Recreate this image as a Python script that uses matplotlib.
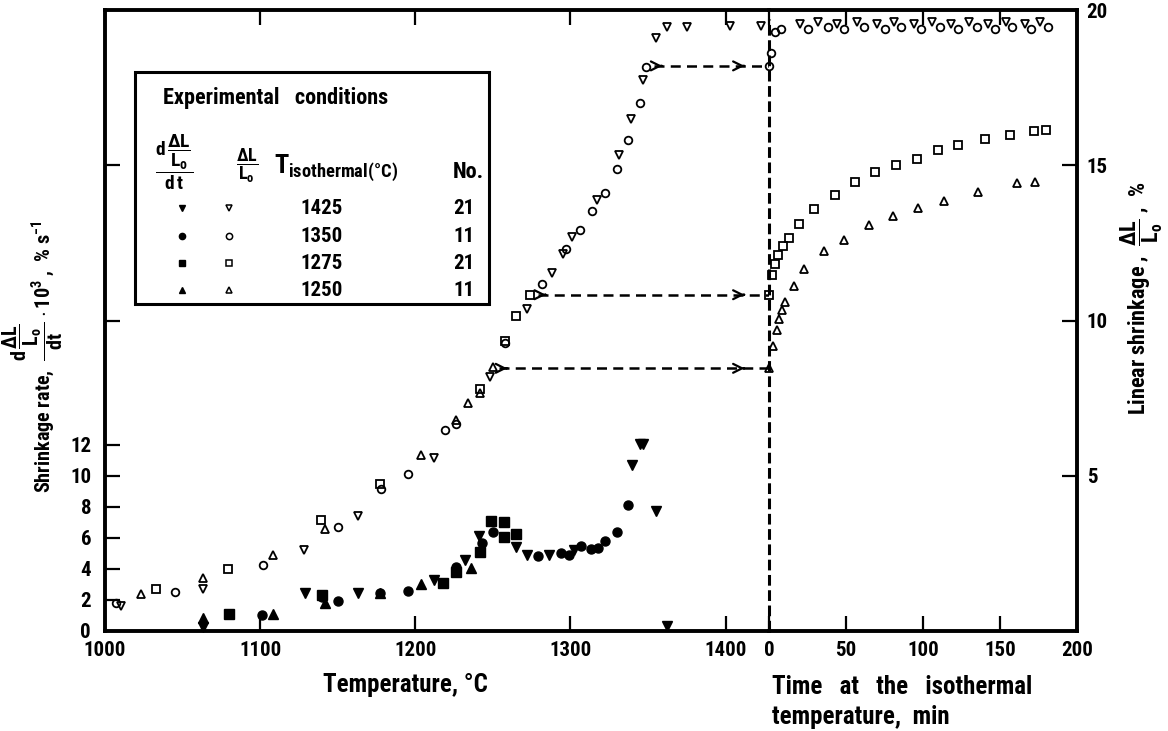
import matplotlib
matplotlib.use('Agg')
import matplotlib.pyplot as plt
from matplotlib import font_manager
from matplotlib.lines import Line2D
from matplotlib.patches import Rectangle


# Font setup: prefer a narrow bold face, like the scanned original

def pick_font():
    fl = font_manager.fontManager.ttflist
    for pref in ['Liberation Sans Narrow', 'Roboto Condensed',
                 'Open Sans Condensed', 'Noto Sans Condensed']:
        if any(f.name == pref for f in fl):
            return pref, 'normal', 15
    for fam in ['DejaVu Sans', 'Noto Sans', 'Roboto', 'Open Sans']:
        for f in fl:
            base = f.fname.split('/')[-1]
            if (f.name == fam and 'Condensed' in base and 'Semi' not in base
                    and 'Extra' not in base and 'Bold' in base):
                return fam, 'condensed', 13
    return 'DejaVu Sans', 'normal', 12


FAM, STRETCH, FS = pick_font()
plt.rcParams['font.family'] = [FAM, 'DejaVu Sans']
plt.rcParams['font.weight'] = 'bold'
plt.rcParams['font.stretch'] = STRETCH
mt = FAM + ':bold' + (':condensed' if STRETCH == 'condensed' else '')
plt.rcParams['mathtext.fontset'] = 'custom'
plt.rcParams['mathtext.rm'] = mt
plt.rcParams['mathtext.it'] = mt
plt.rcParams['mathtext.bf'] = mt


# Data: heating stage, linear shrinkage (%) vs temperature (open markers)

heat_T_1425 = [1010, 1063, 1128, 1163, 1212, 1248, 1272, 1288, 1295, 1301,
               1317, 1331, 1339, 1347, 1355, 1362, 1375, 1403, 1423]
heat_s_1425 = [0.80, 1.35, 2.60, 3.69, 5.58, 8.17, 10.38, 11.54, 12.15, 12.69,
               13.88, 15.32, 16.50, 17.76, 19.10, 19.45, 19.45, 19.49, 19.50]

heat_T_1350 = [1007, 1045, 1102, 1150, 1178, 1195, 1219, 1226, 1258, 1282,
               1297, 1306, 1314, 1322, 1330, 1337, 1345, 1349]
heat_s_1350 = [0.90, 1.25, 2.12, 3.36, 4.58, 5.06, 6.47, 6.67, 9.29, 11.19,
               12.31, 12.92, 13.53, 14.10, 14.87, 15.80, 17.00, 18.17]

heat_T_1275 = [1033, 1079, 1139, 1177, 1242, 1258, 1265, 1274]
heat_s_1275 = [1.35, 1.99, 3.59, 4.74, 7.79, 9.35, 10.16, 10.83]

heat_T_1250 = [1023, 1063, 1108, 1142, 1204, 1226, 1234, 1242, 1250]
heat_s_1250 = [1.19, 1.70, 2.44, 3.30, 5.67, 6.80, 7.34, 7.65, 8.49]

# Shrinkage rate (x 10^3, %/s) vs temperature (filled markers)
rate_T_1425 = [1063, 1129, 1163, 1212, 1232, 1241, 1265, 1272, 1286, 1302,
               1340, 1345, 1347, 1355, 1362]
rate_r_1425 = [0.26, 2.44, 2.44, 3.27, 4.60, 6.10, 5.38, 4.87, 4.87, 5.20,
               10.70, 12.05, 12.05, 7.70, 0.30]

rate_T_1350 = [1101, 1140, 1150, 1177, 1195, 1226, 1243, 1250, 1279, 1294,
               1299, 1307, 1313, 1318, 1322, 1330, 1337]
rate_r_1350 = [1.03, 2.20, 1.92, 2.44, 2.56, 4.10, 5.64, 6.35, 4.80, 5.00,
               4.87, 5.45, 5.26, 5.32, 5.77, 6.35, 8.14]

rate_T_1275 = [1080, 1140, 1218, 1226, 1242, 1249, 1257, 1257, 1265]
rate_r_1275 = [1.09, 2.30, 3.08, 3.80, 5.06, 7.10, 7.05, 6.03, 6.28]

rate_T_1250 = [1063, 1108, 1142, 1177, 1204, 1236]
rate_r_1250 = [0.83, 1.09, 1.80, 2.44, 3.00, 4.04]

# Isothermal stage, linear shrinkage (%) vs time (min)
iso_t_1425 = [20, 32, 44, 57, 70, 81, 94, 106, 118, 130, 142, 154, 166, 176]
iso_s_1425 = [19.55, 19.60, 19.55, 19.60, 19.55, 19.60, 19.55, 19.60, 19.55,
              19.60, 19.55, 19.60, 19.55, 19.60]

iso_t_1350 = [0, 1, 4, 8, 25, 38, 49, 62, 75, 86, 99, 111, 123, 135, 147,
              158, 170, 181]
iso_s_1350 = [18.20, 18.60, 19.30, 19.40, 19.40, 19.45, 19.40, 19.45, 19.40,
              19.45, 19.40, 19.45, 19.40, 19.45, 19.40, 19.45, 19.40, 19.45]

iso_t_1275 = [0, 2, 4, 6, 9, 13, 19.5, 29, 43, 56, 69, 82.5, 96, 110, 123,
              140, 156.5, 172, 180]
iso_s_1275 = [10.83, 11.47, 11.83, 12.10, 12.40, 12.65, 13.10, 13.60, 14.05,
              14.45, 14.78, 15.00, 15.20, 15.50, 15.64, 15.83, 15.96, 16.09,
              16.12]

iso_t_1250 = [0, 2.6, 5, 6.5, 8.4, 10.4, 16, 23, 36, 49, 65, 80.5, 97, 113.6,
              136, 161, 172.7]
iso_s_1250 = [8.46, 9.17, 9.70, 10.06, 10.35, 10.60, 11.10, 11.66, 12.24,
              12.60, 13.07, 13.36, 13.62, 13.85, 14.13, 14.42, 14.45]

# Transfer arrows: shrinkage reached at the end of heating
arrow_T = [1350, 1275, 1250]
arrow_s = [18.20, 10.83, 8.46]

# Legend table
iso_temps = [1425, 1350, 1275, 1250]
run_no = [21, 11, 21, 11]
markers = ['v', 'o', 's', '^']


# Figure layout (pixel based, 1168 x 731)

W, H = 1168, 731
fig = plt.figure(figsize=(W / 100, H / 100), dpi=100)


def fx(px):
    return px / W


def fy(py):
    return 1 - py / H


x_left, x_mid, x_right = 105, 769, 1077
y_top, y_bot = 10, 631
ax1 = fig.add_axes([fx(x_left), fy(y_bot), fx(x_mid - x_left), (y_bot - y_top) / H])
ax2 = fig.add_axes([fx(x_mid), fy(y_bot), fx(x_right - x_mid), (y_bot - y_top) / H])
ax1s = ax1.twinx()

ax1.set_xlim(1000, 1428)
ax1.set_ylim(0, 40)
ax1s.set_ylim(0, 20)
ax2.set_xlim(0, 200)
ax2.set_ylim(0, 20)
ax1s.axis('off')

SPW = 2.8
for ax in (ax1, ax2):
    for sp in ax.spines.values():
        sp.set_linewidth(SPW)
ax1.spines['right'].set_visible(False)
ax2.spines['left'].set_visible(False)

tick_kw = dict(direction='in', length=11, width=1.6, labelsize=FS)
ax1.set_xticks([1000, 1100, 1200, 1300, 1400])
ax1.set_yticks([0, 2, 4, 6, 8, 10, 12, 20, 30])
ax1.set_yticklabels(['0', '2', '4', '6', '8', '10', '12', '', ''])
ax1.tick_params(axis='x', top=True, pad=7, **tick_kw)
ax1.tick_params(axis='y', left=True, right=False, pad=10, **tick_kw)

ax2.set_xticks([0, 50, 100, 150, 200])
ax2.set_yticks([5, 10, 15, 20])
ax2.yaxis.tick_right()
ax2.tick_params(axis='x', top=True, pad=7, **tick_kw)
ax2.tick_params(axis='y', left=False, right=True, pad=7, **tick_kw)

# Plot data
open_kw = dict(ls='none', mfc='none', mec='k', mew=1.3, ms=5.5, clip_on=False)
fill_kw = dict(ls='none', color='k', ms=6.5, clip_on=False)

ax1s.plot(heat_T_1425, heat_s_1425, marker='v', **open_kw)
ax1s.plot(heat_T_1350, heat_s_1350, marker='o', **open_kw)
ax1s.plot(heat_T_1275, heat_s_1275, marker='s', **open_kw)
ax1s.plot(heat_T_1250, heat_s_1250, marker='^', **open_kw)

ax1.plot(rate_T_1425, rate_r_1425, marker='v', **fill_kw)
ax1.plot(rate_T_1350, rate_r_1350, marker='o', **fill_kw)
ax1.plot(rate_T_1275, rate_r_1275, marker='s', **fill_kw)
ax1.plot(rate_T_1250, rate_r_1250, marker='^', **fill_kw)

ax2.plot(iso_t_1425, iso_s_1425, marker='v', **open_kw)
ax2.plot(iso_t_1350, iso_s_1350, marker='o', **open_kw)
ax2.plot(iso_t_1275, iso_s_1275, marker='s', **open_kw)
ax2.plot(iso_t_1250, iso_s_1250, marker='^', **open_kw)

# Divider between heating and isothermal parts
ax2.axvline(0, ymin=0, ymax=0.985, color='k', lw=2.2, ls=(0, (3.5, 1.5)), clip_on=False)

# Dashed transfer arrows
x_end = ax1.get_xlim()[1]
for T0, s0 in zip(arrow_T, arrow_s):
    ax1s.plot([T0 + 4, x_end], [s0, s0], color='k', lw=1.8, ls=(0, (4, 2.5)))
    for xh in (T0 + 11, x_end - 14):
        ax1s.annotate('', xy=(xh, s0), xytext=(xh - 4, s0),
                      arrowprops=dict(arrowstyle='->', lw=1.6, color='k',
                                      mutation_scale=16))

# Axis labels
AFS = FS * 1.2
fig.text(fx(405), fy(685), 'Temperature, °C', ha='center', va='center', fontsize=AFS)
fig.text(fx(772), fy(687), 'Time   at   the   isothermal', ha='left', va='center',
         fontsize=AFS)
fig.text(fx(772), fy(717), 'temperature,  min', ha='left', va='center', fontsize=AFS)
fig.text(fx(33), fy(357),
         r'Shrinkage rate,  $\dfrac{d\,\dfrac{\Delta L}{L_o}}{dt}$ $\cdot\,10^3$ ,  % s$^{-1}$',
         rotation=90, ha='center', va='center', fontsize=FS - 0.5)
fig.text(fx(1142), fy(298), r'Linear shrinkage ,  $\dfrac{\Delta L}{L_o}$ ,  %',
         rotation=90, ha='center', va='center', fontsize=FS + 1)

# Legend table
fig.add_artist(Rectangle((fx(135), fy(304)), fx(489 - 135), (304 - 72) / H,
                         transform=fig.transFigure, fill=True, fc='white',
                         ec='k', lw=2.2, zorder=5))
lfs = FS - 1
fig.text(fx(163), fy(98), 'Experimental   conditions', ha='left', va='center',
         fontsize=FS + 1, zorder=6)
fig.text(fx(174), fy(162), r'$\dfrac{d\,\dfrac{\Delta L}{L_o}}{d\,t}$', ha='center',
         va='center', fontsize=FS - 1, zorder=6)
fig.text(fx(247), fy(166), r'$\dfrac{\Delta L}{L_o}$', ha='center', va='center',
         fontsize=FS - 2, zorder=6)
fig.text(fx(274), fy(168), r'$T_{isothermal(°C)}$', ha='left', va='center',
         fontsize=FS + 4, zorder=6)
fig.text(fx(453), fy(172), 'No.', ha='left', va='center', fontsize=FS + 1, zorder=6)

row_y = [208, 236, 263, 290]
for yy, temp, no, mk in zip(row_y, iso_temps, run_no, markers):
    fig.add_artist(Line2D([fx(182)], [fy(yy)], marker=mk, color='k', ms=4.5,
                          transform=fig.transFigure, zorder=6))
    fig.add_artist(Line2D([fx(229)], [fy(yy)], marker=mk, mfc='none', mec='k',
                          mew=1.1, ms=4.5, transform=fig.transFigure, zorder=6))
    fig.text(fx(300), fy(yy), str(temp), ha='left', va='center', fontsize=lfs + 1,
             zorder=6)
    fig.text(fx(474), fy(yy), str(no), ha='right', va='center', fontsize=lfs + 1,
             zorder=6)

fig.savefig('out.png', dpi=100)
